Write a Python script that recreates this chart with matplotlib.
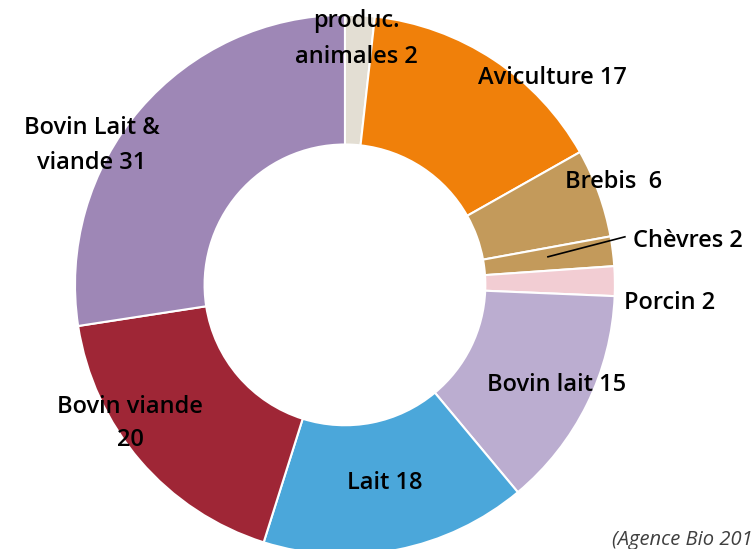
import matplotlib.pyplot as plt

plt.rcParams['font.family'] = ['Open Sans', 'DejaVu Sans']

# parts du cheptel bio par filière (en %)
filieres = ['Autres\nproduc.\nanimales', 'Aviculture', 'Brebis', 'Chèvres', 'Porcin',
            'Bovin lait', 'Lait', 'Bovin viande', 'Bovin Lait &\nviande']
valeurs = [2, 17, 6, 2, 2, 15, 18, 20, 31]
couleurs = ['#E3DED3', '#F0800A', '#C39A5B', '#C39A5B', '#F2CDD3',
            '#BBADD0', '#4BA7DA', '#9F2636', '#9E87B6']

fig = plt.figure(figsize=(7.53, 5.49), dpi=100)
ax = fig.add_axes([0.0996, -0.0109, 0.717, 0.984])
ax.pie(valeurs, colors=couleurs, startangle=90, counterclock=False,
       radius=1.0, wedgeprops=dict(width=0.48, edgecolor='white', linewidth=1.5))
ax.set_xlim(-1, 1)
ax.set_ylim(-1, 1)
ax.set_aspect('equal')
ax.axis('off')

style = dict(fontsize=17, fontweight='semibold', color='black', va='center', clip_on=False)

ax.text(0.044, 0.978, f'{filieres[0]} {valeurs[0]}', ha='center', linespacing=1.68, **style)
ax.text(0.767, 0.767, f'{filieres[1]} {valeurs[1]}', ha='center', **style)
ax.text(0.996, 0.381, f'{filieres[2]}  {valeurs[2]}', ha='center', **style)
ax.text(1.067, 0.163, f'{filieres[3]} {valeurs[3]}', ha='left', **style)
ax.plot([0.752, 1.037], [0.104, 0.178], color='black', lw=1.2, clip_on=False)
ax.text(1.033, -0.067, f'{filieres[4]} {valeurs[4]}', ha='left', **style)
ax.text(0.785, -0.370, f'{filieres[5]} {valeurs[5]}', ha='center', **style)
ax.text(0.148, -0.733, f'{filieres[6]} {valeurs[6]}', ha='center', **style)
ax.text(-0.796, -0.513, f'{filieres[7]}\n{valeurs[7]}', ha='center', linespacing=1.5, **style)
ax.text(-0.937, 0.517, f'{filieres[8]} {valeurs[8]}', ha='center', linespacing=1.58, **style)

fig.text(0.813, 0.008, '(Agence Bio 2019)', ha='left', va='baseline',
         fontsize=14.5, style='italic', color='#3F3F3F')

fig.savefig('out.png', dpi=100)
